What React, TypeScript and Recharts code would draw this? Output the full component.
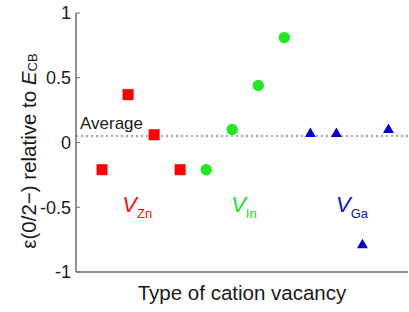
import {
  ScatterChart,
  Scatter,
  XAxis,
  YAxis,
  ReferenceLine,
  ReferenceDot
} from "recharts"

const zn = [
  { x: 1, y: -0.21 },
  { x: 2, y: 0.37 },
  { x: 3, y: 0.06 },
  { x: 4, y: -0.21 }
]
const inn = [
  { x: 5, y: -0.21 },
  { x: 6, y: 0.1 },
  { x: 7, y: 0.44 },
  { x: 8, y: 0.81 }
]
const ga = [
  { x: 9, y: 0.07 },
  { x: 10, y: 0.07 },
  { x: 11, y: -0.79 },
  { x: 12, y: 0.1 }
]
const yTicks = [-1, -0.5, 0, 0.5, 1]
const average = 0.05
const groupLabels = [
  { sub: "Zn", x: 2.35, y: -0.54, color: "#ee1111" },
  { sub: "In", x: 6.45, y: -0.54, color: "#22dd22" },
  { sub: "Ga", x: 10.6, y: -0.54, color: "#1010cc" }
]

const FONT = "'Liberation Sans', Arial, sans-serif"
const AXIS = "#6e6e6e"

const Square = (p: any) => (
  <rect x={p.cx - 5.5} y={p.cy - 5.5} width={11} height={11} fill="#ff0000" />
)
const Circle = (p: any) => <circle cx={p.cx} cy={p.cy} r={5.7} fill="#22e822" />
const Triangle = (p: any) => (
  <path
    d={`M${p.cx},${p.cy - 6} L${p.cx + 5.5},${p.cy + 3.5} L${p.cx - 5.5},${p.cy + 3.5} Z`}
    fill="#0000cc"
  />
)

export default function App() {
  return (
    <div
      style={{
        position: "absolute",
        left: 0,
        top: 0,
        width: 409,
        height: 312,
        overflow: "hidden",
        background: "#fff"
      }}
    >
      <ScatterChart
        width={420}
        height={312}
        margin={{ top: 13, right: 12, bottom: 0, left: 0 }}
      >
        <XAxis
          dataKey="x"
          type="number"
          domain={[0, 12.75]}
          tick={false}
          tickLine={false}
          axisLine={{ stroke: AXIS, strokeWidth: 1.5 }}
          height={40}
          label={{
            content: ({ viewBox }: any) => (
              <text
                x={viewBox.x + viewBox.width / 2}
                y={viewBox.y + 28}
                textAnchor="middle"
                fontFamily={FONT}
                fontSize={20.5}
                fill="#1a1a1a"
              >
                Type of cation vacancy
              </text>
            )
          }}
        />
        <XAxis
          xAxisId="top"
          orientation="top"
          type="number"
          domain={[0, 12.75]}
          tick={false}
          tickLine={false}
          height={0}
          axisLine={{ stroke: AXIS, strokeWidth: 1.5 }}
        />
        <YAxis
          dataKey="y"
          type="number"
          domain={[-1, 1]}
          ticks={yTicks}
          width={76}
          tickSize={-4}
          tickMargin={9}
          tickLine={{ stroke: AXIS }}
          axisLine={{ stroke: AXIS, strokeWidth: 1.5 }}
          tick={{ fontFamily: FONT, fontSize: 18, fill: "#1a1a1a" }}
          label={{
            content: () => (
              <text
                x={28}
                y={151}
                transform="rotate(-90, 28, 151)"
                textAnchor="middle"
                dominantBaseline="central"
                fontFamily={FONT}
                fontSize={20.5}
                fill="#1a1a1a"
              >
                ε(0/2−) relative to <tspan fontStyle="italic">E</tspan>
                <tspan fontSize={13} dy={4}>CB</tspan>
              </text>
            )
          }}
        />
        <YAxis
          yAxisId="right"
          orientation="right"
          type="number"
          domain={[-1, 1]}
          ticks={yTicks}
          width={0}
          tick={false}
          tickSize={-4}
          tickLine={{ stroke: "#cfcfcf" }}
          axisLine={{ stroke: "#dcdcdc", strokeWidth: 1 }}
        />
        <ReferenceLine
          y={average}
          stroke="#888"
          strokeWidth={1.5}
          strokeDasharray="2 3"
          label={{
            content: ({ viewBox }: any) => (
              <text
                x={viewBox.x + 4}
                y={viewBox.y - 7}
                fontFamily={FONT}
                fontSize={17}
                fill="#1a1a1a"
              >
                Average
              </text>
            )
          }}
        />
        <Scatter data={zn} shape={Square} isAnimationActive={false} />
        <Scatter data={inn} shape={Circle} isAnimationActive={false} />
        <Scatter data={ga} shape={Triangle} isAnimationActive={false} />
        {groupLabels.map((g) => (
          <ReferenceDot
            key={g.sub}
            x={g.x}
            y={g.y}
            shape={(p: any) => (
              <text
                x={p.cx}
                y={p.cy}
                textAnchor="middle"
                fontFamily={FONT}
                fill={g.color}
              >
                <tspan fontStyle="italic" fontSize={22}>V</tspan>
                <tspan fontSize={13} dy={6}>{g.sub}</tspan>
              </text>
            )}
          />
        ))}
      </ScatterChart>
    </div>
  )
}
